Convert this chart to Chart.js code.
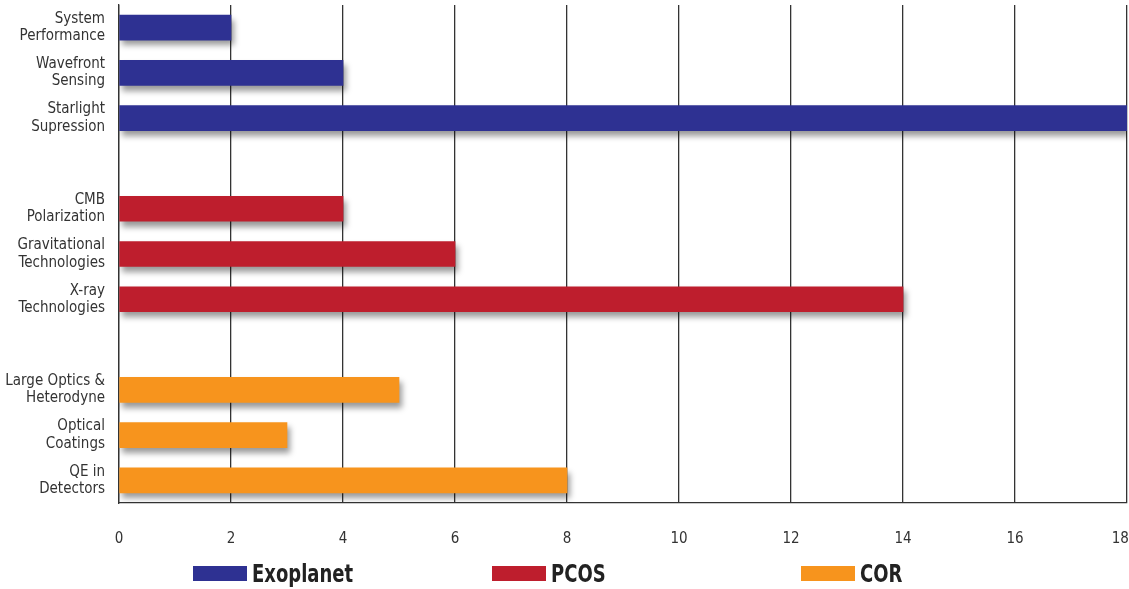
<!DOCTYPE html>
<html>
<head>
<meta charset="utf-8">
<script src="https://cdn.jsdelivr.net/npm/chart.js@4/dist/chart.umd.min.js"></script>
<style>
  html, body { margin: 0; padding: 0; background: #fff; }
  #wrap { position: relative; width: 1129px; height: 589px; overflow: hidden; }
  .legend-item {
    position: absolute; top: 559px; display: flex; align-items: center;
    font-family: "DejaVu Sans Condensed", "Liberation Sans Narrow", sans-serif;
    font-weight: bold; font-size: 25px; color: #222;
  }
  .legend-item span.box { display: inline-block; width: 54px; height: 15px; margin-right: 5px; }
  .legend-item span.txt { display: inline-block; transform: scaleX(0.8); transform-origin: left center; }
</style>
</head>
<body>
<div id="wrap">
  <canvas id="chart" width="1129" height="589"></canvas>
</div>
<script>
// Categories (blank rows separate the three groups)
const categories = [
  ['System', 'Performance'],
  ['Wavefront', 'Sensing'],
  ['Starlight', 'Supression'],
  '',
  ['CMB', 'Polarization'],
  ['Gravitational', 'Technologies'],
  ['X-ray', 'Technologies'],
  '',
  ['Large Optics &', 'Heterodyne'],
  ['Optical', 'Coatings'],
  ['QE in', 'Detectors']
];

const exoplanetValues = [2, 4, 18, null, null, null, null, null, null, null, null];
const pcosValues      = [null, null, null, null, 4, 6, 14, null, null, null, null];
const corValues       = [null, null, null, null, null, null, null, null, 5, 3, 8];

const xTicks = [0, 2, 4, 6, 8, 10, 12, 14, 16, 18];

const seriesNames = ['Exoplanet', 'PCOS', 'COR'];
const seriesColors = ['#2E3192', '#BE1E2D', '#F7941D'];

const FONT = '"DejaVu Sans Condensed", "Liberation Sans Narrow", sans-serif';

// soft drop shadow under the bars
const barShadow = {
  id: 'barShadow',
  beforeDatasetsDraw(chart) {
    const ctx = chart.ctx;
    ctx.save();
    ctx.shadowColor = 'rgba(0,0,0,0.4)';
    ctx.shadowBlur = 6;
    ctx.shadowOffsetX = 3;
    ctx.shadowOffsetY = 5;
  },
  afterDatasetsDraw(chart) {
    chart.ctx.restore();
  }
};

new Chart(document.getElementById('chart').getContext('2d'), {
  type: 'bar',
  data: {
    labels: categories,
    datasets: [
      { label: seriesNames[0], data: exoplanetValues, backgroundColor: seriesColors[0] },
      { label: seriesNames[1], data: pcosValues, backgroundColor: seriesColors[1] },
      { label: seriesNames[2], data: corValues, backgroundColor: seriesColors[2] }
    ]
  },
  options: {
    indexAxis: 'y',
    responsive: false,
    animation: false,
    layout: { padding: { top: 5, right: 2, bottom: 14, left: 0 } },
    datasets: { bar: { barThickness: 25, borderWidth: 0 } },
    plugins: {
      legend: { display: false },
      tooltip: { enabled: false }
    },
    scales: {
      x: {
        min: 0,
        max: 18,
        stacked: true,
        afterBuildTicks(scale) { scale.ticks = xTicks.map(v => ({ value: v })); },
        afterFit(scale) { scale.paddingLeft = 0; scale.paddingRight = 0; },
        grid: { color: '#333', lineWidth: 1.3, drawTicks: false },
        border: { display: true, color: '#333', width: 1.3 },
        ticks: {
          color: '#333', padding: 27, font: { family: FONT, size: 15 },
          // last label sits just inside the right edge
          callback: v => v === 18 ? '18\u2002\u2002' : String(v)
        }
      },
      y: {
        stacked: true,
        afterFit(scale) { scale.width = 119; scale.paddingTop = 0; scale.paddingBottom = 0; },
        grid: { display: false },
        border: { display: true, color: '#333', width: 1.3 },
        ticks: { color: '#333', padding: 6, font: { family: FONT, size: 15, lineHeight: 1.15 } }
      }
    }
  },
  plugins: [barShadow]
});

// legend below the chart
const legendLeft = [193, 492, 801];
seriesNames.forEach((name, i) => {
  const item = document.createElement('div');
  item.className = 'legend-item';
  item.style.left = legendLeft[i] + 'px';
  item.innerHTML = '<span class="box" style="background:' + seriesColors[i] + '"></span><span class="txt">' + name + '</span>';
  document.getElementById('wrap').appendChild(item);
});
</script>
</body>
</html>
